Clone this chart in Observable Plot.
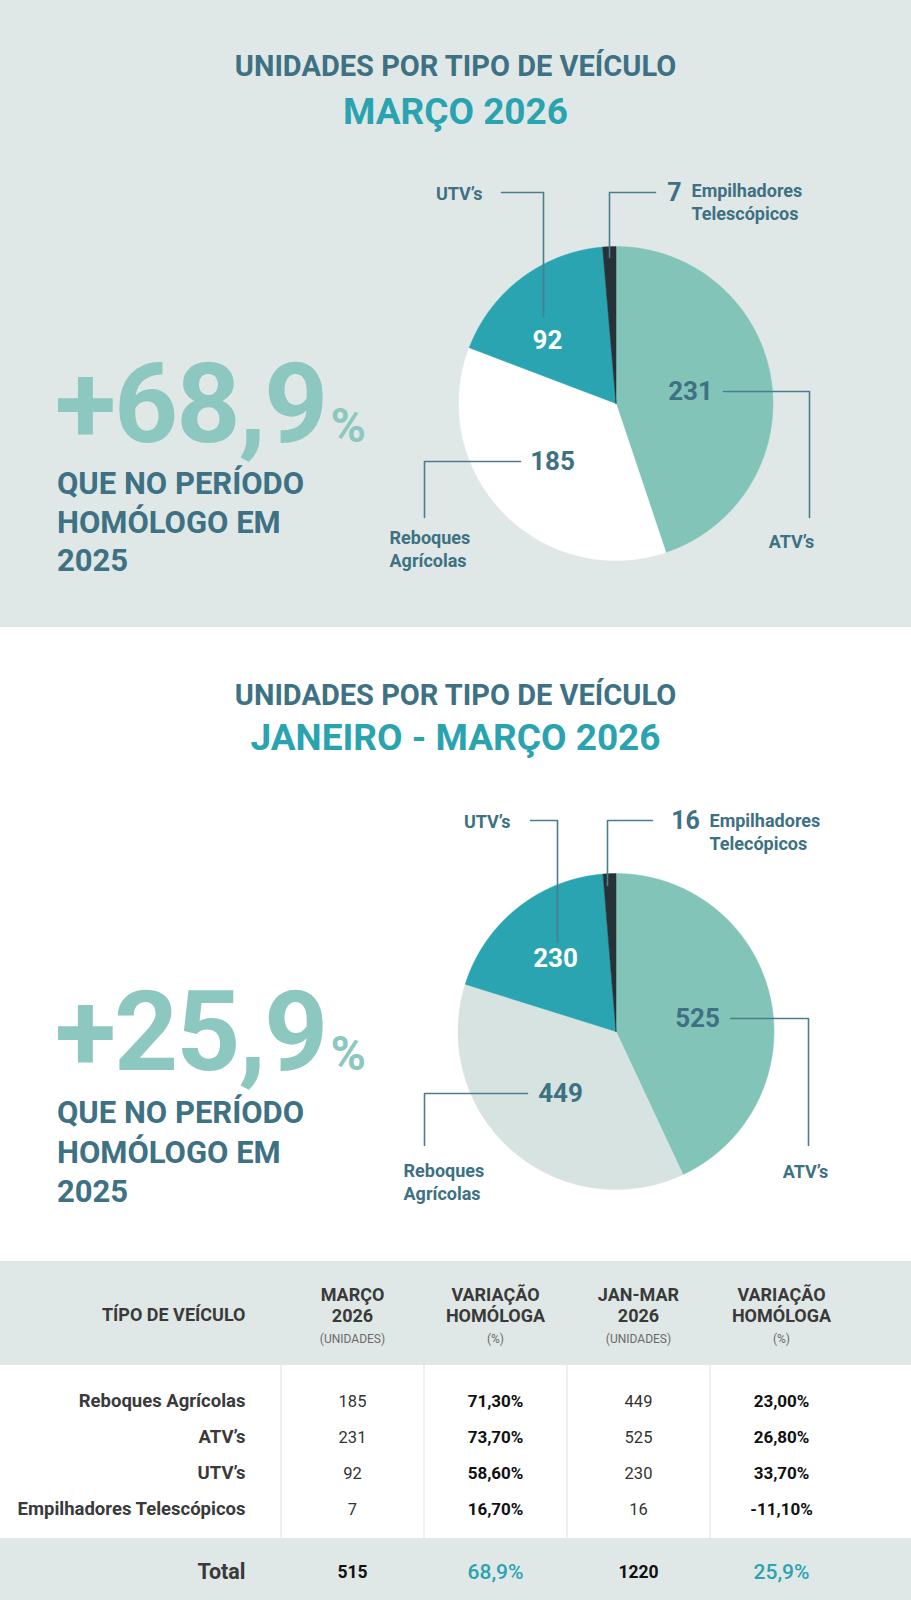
<!DOCTYPE html>
<html><head><meta charset="utf-8">
<script src="https://cdn.jsdelivr.net/npm/d3@7"></script>
<script src="https://cdn.jsdelivr.net/npm/@observablehq/plot@0.6"></script>
<style>
body{margin:0;width:911px;height:1600px;position:relative;overflow:hidden;background:#fff;font-family:Roboto,"Noto Sans",sans-serif}
.abs{position:absolute}
.band{left:0;width:911px;background:#e0e8e7}
.title{left:0;width:911px;text-align:center;font-weight:700;color:#3d7183;font-size:29px;line-height:1;white-space:nowrap}
.sub{left:0;width:911px;text-align:center;font-weight:700;color:#2aa3b1;font-size:37px;line-height:1;white-space:nowrap}
.big{left:55px;font-weight:700;color:#8cc8bf;font-size:112px;line-height:90px;white-space:nowrap;letter-spacing:-2px}
.big span{font-size:48px;letter-spacing:0;margin-left:4px}
.que{left:57px;font-weight:700;color:#3d7183;font-size:31px;line-height:38.5px;white-space:nowrap}
svg{display:block}
</style></head>
<body>
<div class="abs band" style="top:0;height:627px"></div>
<div class="abs band" style="top:1261px;height:104px"></div>
<div class="abs band" style="top:1538px;height:62px"></div>

<div class="abs title" style="top:51.5px">UNIDADES POR TIPO DE VEÍCULO</div>
<div class="abs sub" style="top:93px">MARÇO 2026</div>
<div class="abs big" id="big1" style="top:359px"></div>
<div class="abs que" style="top:465px">QUE NO PERÍODO<br>HOMÓLOGO EM<br>2025</div>

<div class="abs title" style="top:680.5px">UNIDADES POR TIPO DE VEÍCULO</div>
<div class="abs sub" style="top:719px">JANEIRO - MARÇO 2026</div>
<div class="abs big" id="big2" style="top:987px"></div>
<div class="abs que" style="top:1093px;line-height:39.5px">QUE NO PERÍODO<br>HOMÓLOGO EM<br>2025</div>

<div class="abs" id="pie1" style="left:0;top:0"></div>
<div class="abs" id="pie2" style="left:0;top:627px"></div>
<div class="abs" id="table" style="left:0;top:1261px"></div>

<script>
// ---------------- DATA ----------------
const pieCategories = ["ATV’s", "Reboques Agrícolas", "UTV’s", "Empilhadores Telescópicos"];
const marco2026Units = [231, 185, 92, 7];
const janMar2026Units = [525, 449, 230, 16];
const pie1Labels = ["ATV’s", "Reboques\nAgrícolas", "UTV’s", "Empilhadores\nTelescópicos"];
const pie2Labels = ["ATV’s", "Reboques\nAgrícolas", "UTV’s", "Empilhadores\nTelecópicos"];
const marcoGrowth = "+68,9";
const janMarGrowth = "+25,9";

const tableRows = ["Reboques Agrícolas", "ATV’s", "UTV’s", "Empilhadores Telescópicos"];
const tableMarco = [185, 231, 92, 7];
const tableMarcoVar = ["71,30%", "73,70%", "58,60%", "16,70%"];
const tableJanMar = [449, 525, 230, 16];
const tableJanMarVar = ["23,00%", "26,80%", "33,70%", "-11,10%"];
const tableTotalUnits = ["515", "1220"];
const tableTotalVar = ["68,9%", "25,9%"];
const tableHeads = ["MARÇO\n2026", "VARIAÇÃO\nHOMÓLOGA", "JAN-MAR\n2026", "VARIAÇÃO\nHOMÓLOGA"];
const tableUnits = ["(UNIDADES)", "(%)", "(UNIDADES)", "(%)"];

// ---------------- STYLE / LAYOUT ----------------
const FONT = 'Roboto, "Noto Sans", sans-serif';
const DARK = "#3d7183";
const LEAD = "#4b7e8d";
const colors1 = ["#83c4b9", "#ffffff", "#2aa4b1", "#263238"];
const colors2 = ["#83c4b9", "#d7e3e1", "#2aa4b1", "#263238"];
const valueFills = [DARK, DARK, "#ffffff", DARK];

const layout1 = {
  H: 627, cx: 615.5, cy: 403, r: 157,
  value: [[690, 391], [552, 461], [547, 340], [674, 192]],
  leaders: [
    [[723, 391], [809, 391], [809, 517]],
    [[520, 461], [424, 461], [424, 517]],
    [[543, 316], [543, 192], [501, 192]],
    [[609, 257], [609, 192], [655, 192]]
  ],
  label: [[791, 540, "middle"], [389, 548, "start"], [482, 192, "end"], [691, 201, "start"]]
};
const layout2 = {
  H: 634, cx: 615.5, cy: 404, r: 158,
  value: [[697, 391], [560, 466], [555, 331], [685, 193]],
  leaders: [
    [[730, 391], [808, 391], [808, 518]],
    [[527, 466], [424, 466], [424, 518]],
    [[557, 315], [557, 193], [530, 193]],
    [[607, 258], [607, 193], [652, 193]]
  ],
  label: [[805, 543, "middle"], [403, 554, "start"], [510, 193, "end"], [709, 204, "start"]]
};

function pieChart(values, labels, colors, L) {
  const arcs = d3.pie().sort(null)(values);
  const pts = [];
  arcs.forEach((a, i) => {
    const n = Math.max(4, Math.ceil((a.endAngle - a.startAngle) / 0.004));
    pts.push({k: pieCategories[i], x: L.cx, y: L.cy});
    for (let j = 0; j <= n; j++) {
      const t = a.startAngle + (a.endAngle - a.startAngle) * j / n;
      pts.push({k: pieCategories[i], x: L.cx + L.r * Math.sin(t), y: L.cy - L.r * Math.cos(t)});
    }
    pts.push({k: pieCategories[i], x: L.cx, y: L.cy});
  });
  const leaderPts = L.leaders.flatMap((seg, i) => seg.map(([x, y]) => ({id: i, x, y})));
  const vals = values.map((v, i) => ({v, i}));
  const main = vals.filter(d => d.i < 3);
  const small = vals.filter(d => d.i === 3);
  return Plot.plot({
    width: 911, height: L.H, margin: 0,
    x: {domain: [0, 911], range: [0, 911], axis: null},
    y: {domain: [0, L.H], range: [0, L.H], axis: null},
    color: {domain: pieCategories, range: colors},
    style: {background: "transparent", fontFamily: FONT, overflow: "visible"},
    marks: [
      Plot.line(pts, {x: "x", y: "y", z: "k", fill: "k", stroke: "k", strokeWidth: 0.5}),
      Plot.line(leaderPts, {x: "x", y: "y", z: "id", stroke: LEAD, strokeWidth: 1.6}),
      Plot.text(main, {x: d => L.value[d.i][0], y: d => L.value[d.i][1], text: d => String(d.v),
        fill: d => valueFills[d.i], fontSize: 26, fontWeight: 700}),
      Plot.text(small, {x: d => L.value[d.i][0], y: d => L.value[d.i][1], text: d => String(d.v),
        fill: DARK, fontSize: 25, fontWeight: 700}),
      ...labels.map((lab, i) => Plot.text([lab], {x: () => L.label[i][0], y: () => L.label[i][1], text: d => d,
        textAnchor: L.label[i][2], fill: DARK, fontSize: 18, fontWeight: 700, lineHeight: 1.25}))
    ]
  });
}

document.getElementById("big1").innerHTML = marcoGrowth + "<span>%</span>";
document.getElementById("big2").innerHTML = janMarGrowth + "<span>%</span>";
document.getElementById("pie1").append(pieChart(marco2026Units, pie1Labels, colors1, layout1));
document.getElementById("pie2").append(pieChart(janMar2026Units, pie2Labels, colors2, layout2));

// ---------------- TABLE ----------------
const cols = ["m", "mv", "j", "jv"];
const TXT = "#3a3a3a";
const table = Plot.plot({
  width: 911, height: 339, margin: 0,
  x: {type: "point", domain: cols, range: [352, 781], padding: 0, axis: null},
  y: {type: "point", domain: tableRows, range: [139, 249], padding: 0, axis: null},
  style: {background: "transparent", fontFamily: FONT},
  marks: [
    Plot.ruleX(cols, {x: d => d, dx: -71.5, insetTop: 104, insetBottom: 62, stroke: "#e8ebeb", strokeWidth: 1.5}),
    Plot.text(["TÍPO DE VEÍCULO"], {frameAnchor: "top-left", dx: 245, dy: 54, textAnchor: "end", lineAnchor: "middle",
      fontSize: 18, fontWeight: 700, fill: TXT}),
    Plot.text(cols, {x: d => d, frameAnchor: "top", dy: 43, text: (d, i) => tableHeads[i], lineAnchor: "middle",
      fontSize: 18, fontWeight: 700, fill: TXT, lineHeight: 1.2}),
    Plot.text(cols, {x: d => d, frameAnchor: "top", dy: 78, text: (d, i) => tableUnits[i], lineAnchor: "middle",
      fontSize: 12, fontWeight: 400, fill: "#6a6a6a"}),
    Plot.text(tableRows, {y: d => d, frameAnchor: "left", dx: 245, textAnchor: "end", lineAnchor: "middle",
      fontSize: 18.5, fontWeight: 700, fill: TXT}),
    Plot.text(tableRows, {x: () => "m", y: d => d, text: (d, i) => String(tableMarco[i]), fontSize: 16.5, fill: "#333"}),
    Plot.text(tableRows, {x: () => "mv", y: d => d, text: (d, i) => tableMarcoVar[i], fontSize: 17, fontWeight: 700, fill: "#111"}),
    Plot.text(tableRows, {x: () => "j", y: d => d, text: (d, i) => String(tableJanMar[i]), fontSize: 16.5, fill: "#333"}),
    Plot.text(tableRows, {x: () => "jv", y: d => d, text: (d, i) => tableJanMarVar[i], fontSize: 17, fontWeight: 700, fill: "#111"}),
    Plot.text(["Total"], {frameAnchor: "top-left", dx: 245, dy: 311, textAnchor: "end", lineAnchor: "middle",
      fontSize: 21.5, fontWeight: 700, fill: TXT}),
    Plot.text(["m", "j"], {x: d => d, frameAnchor: "top", dy: 311, text: (d, i) => tableTotalUnits[i], lineAnchor: "middle",
      fontSize: 17.5, fontWeight: 700, fill: "#111"}),
    Plot.text(["mv", "jv"], {x: d => d, frameAnchor: "top", dy: 311, text: (d, i) => tableTotalVar[i], lineAnchor: "middle",
      fontSize: 21, fontWeight: 500, fill: "#2aa3b1"})
  ]
});
document.getElementById("table").append(table);
</script>
</body></html>
